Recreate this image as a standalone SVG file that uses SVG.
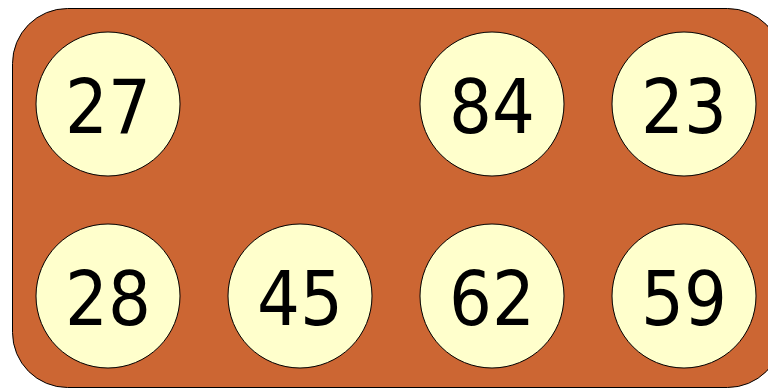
<svg xmlns="http://www.w3.org/2000/svg" width="768" height="389" viewBox="0 0 768 389">
<style>
.bg{fill:#CC6633;stroke:#000;stroke-width:1}
.n circle{fill:#FFFFCC;stroke:#000;stroke-width:1}
.n text{font-family:"DejaVu Sans Condensed","DejaVu Sans",sans-serif;font-stretch:condensed;font-size:75px;text-anchor:middle;fill:#000}
</style>
<rect class="bg" x="12.5" y="8.5" width="770" height="379" rx="55" ry="55"/>
<g id="n27" class="n"><circle cx="108" cy="104" r="72"/><text x="108" y="132.5">27</text></g>
<g id="n84" class="n"><circle cx="492" cy="104" r="72"/><text x="492" y="132.5">84</text></g>
<g id="n23" class="n"><circle cx="684" cy="104" r="72"/><text x="684" y="132.5">23</text></g>
<g id="n28" class="n"><circle cx="108" cy="296" r="72"/><text x="108" y="324.5">28</text></g>
<g id="n45" class="n"><circle cx="300" cy="296" r="72"/><text x="300" y="324.5">45</text></g>
<g id="n62" class="n"><circle cx="492" cy="296" r="72"/><text x="492" y="324.5">62</text></g>
<g id="n59" class="n"><circle cx="684" cy="296" r="72"/><text x="684" y="324.5">59</text></g>
<g id="connectors"></g>
</svg>
